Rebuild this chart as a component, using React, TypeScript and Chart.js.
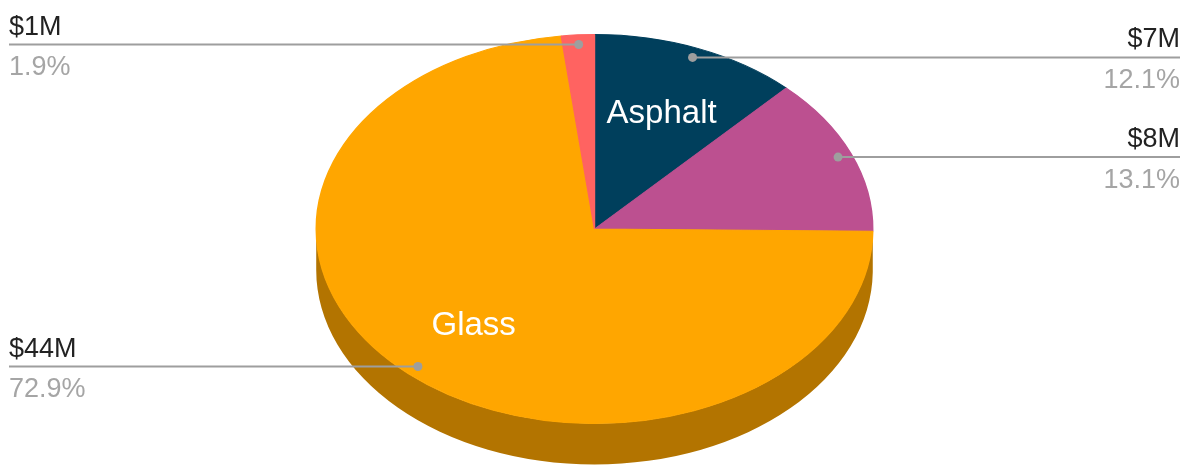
import React, { useEffect, useRef } from "react";
import { Chart, registerables } from "chart.js";

Chart.register(...registerables);

// ---- data ----
const categories = ["Asphalt", "Concrete", "Glass", "Steel"];
const values = [7.3, 7.9, 44.0, 1.15]; // $M
const showSliceName = [true, false, true, false];
const colors = ["#003f5c", "#bc5090", "#ffa600", "#ff6361"];

// ---- style ----
const W = 1189;
const H = 465;
const ASPECT = 279 / 195; // horizontal stretch of the tilted pie
const DEPTH = 41;
const FONT = '"Liberation Sans", Arial, sans-serif';

function shade(hex: string, f: number) {
  const n = parseInt(hex.slice(1), 16);
  const r = Math.round(((n >> 16) & 255) * f);
  const g = Math.round(((n >> 8) & 255) * f);
  const b = Math.round((n & 255) * f);
  return `rgb(${r},${g},${b})`;
}

const total = values.reduce((a, b) => a + b, 0);
const valueLabels = values.map((v) => "$" + Math.round(v) + "M");
const percentLabels = values.map((v) => ((v / total) * 100).toFixed(1) + "%");

const pie3d = {
  id: "pie3d",
  beforeDatasetsDraw(chart: any) {
    const arcs = chart.getDatasetMeta(0).data;
    if (!arcs.length) return;
    const { x, y, outerRadius } = arcs[0].getProps(["x", "y", "outerRadius"], true);
    const ctx = chart.ctx;
    ctx.save();
    ctx.translate(x, y);
    ctx.scale(ASPECT, 1);
    ctx.translate(-x, -y);
    arcs.forEach((arc: any, i: number) => {
      const { startAngle, endAngle } = arc.getProps(["startAngle", "endAngle"], true);
      [
        [0, Math.PI],
        [2 * Math.PI, 3 * Math.PI],
      ].forEach(([a, b]) => {
        const s = Math.max(startAngle, a);
        const e = Math.min(endAngle, b);
        if (e > s) {
          ctx.beginPath();
          ctx.arc(x, y, outerRadius, s, e);
          ctx.arc(x, y + DEPTH, outerRadius, e, s, true);
          ctx.closePath();
          ctx.fillStyle = shade(colors[i], 0.7);
          ctx.fill();
        }
      });
    });
  },
  afterDatasetsDraw(chart: any) {
    const ctx = chart.ctx;
    ctx.restore();
    const arcs = chart.getDatasetMeta(0).data;
    if (!arcs.length) return;
    arcs.forEach((arc: any, i: number) => {
      const { x, y, outerRadius, startAngle, endAngle } = arc.getProps(
        ["x", "y", "outerRadius", "startAngle", "endAngle"],
        true
      );
      const rx = outerRadius * ASPECT;
      const ry = outerRadius;
      const mid = (startAngle + endAngle) / 2;
      const c = Math.cos(mid);
      const s = Math.sin(mid);

      // inside name
      if (showSliceName[i]) {
        ctx.save();
        ctx.font = `33px ${FONT}`;
        ctx.fillStyle = "#ffffff";
        ctx.textAlign = "center";
        ctx.textBaseline = "alphabetic";
        ctx.fillText(categories[i], x + rx * 0.65 * c, y + ry * 0.65 * s + 11.5);
        ctx.restore();
      }

      // outside leader + labels
      const dx = x + rx * 0.95 * c;
      const dy = y + ry * 0.95 * s;
      const left = c < 0;
      const ex = left ? 9 : chart.width - 9;
      ctx.save();
      ctx.strokeStyle = "#9e9e9e";
      ctx.lineWidth = 2;
      ctx.beginPath();
      ctx.moveTo(dx, dy);
      ctx.lineTo(ex, dy);
      ctx.stroke();
      ctx.fillStyle = "#9e9e9e";
      ctx.beginPath();
      ctx.arc(dx, dy, 4.5, 0, Math.PI * 2);
      ctx.fill();
      ctx.font = `27px ${FONT}`;
      ctx.textAlign = left ? "left" : "right";
      ctx.textBaseline = "alphabetic";
      ctx.fillStyle = "#222222";
      ctx.fillText(valueLabels[i], ex, dy - 10);
      ctx.fillStyle = "#a5a5a5";
      ctx.fillText(percentLabels[i], ex, dy + 30.5);
      ctx.restore();
    });
  },
};

export default function App() {
  const ref = useRef<HTMLCanvasElement | null>(null);
  useEffect(() => {
    document.body.style.margin = "0";
    if (!ref.current) return;
    const chart = new Chart(ref.current, {
      type: "pie",
      data: {
        labels: categories,
        datasets: [
          {
            data: values,
            backgroundColor: colors,
            borderColor: colors,
            borderWidth: 1,
            clip: false as any,
          },
        ],
      },
      options: {
        responsive: false,
        animation: false,
        events: [],
        layout: { padding: { top: 34, bottom: DEPTH, left: 0, right: 0 } },
        plugins: {
          legend: { display: false },
          tooltip: { enabled: false },
        },
      },
      plugins: [pie3d],
    });
    return () => chart.destroy();
  }, []);
  return (
    <div style={{ width: W, height: H }}>
      <canvas ref={ref} width={W} height={H} style={{ display: "block" }} />
    </div>
  );
}
